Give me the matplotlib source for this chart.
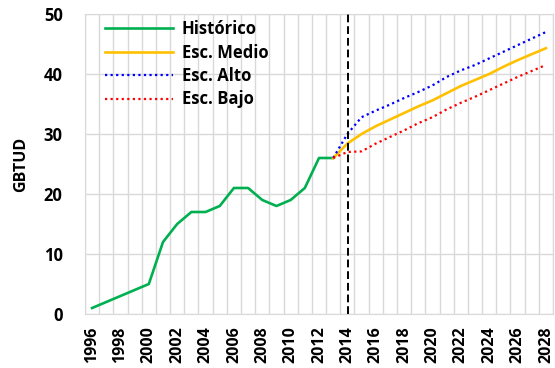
import matplotlib
matplotlib.use("Agg")
import matplotlib.pyplot as plt
import numpy as np

years = list(range(1996, 2029))
hist_years = list(range(1996, 2014))
historico = [1, 2, 3, 4, 5, 12, 15, 17, 17, 18, 21, 21, 19, 18, 19, 21, 26, 26]
proj_years = list(range(2013, 2029))
medio = [26, 28.4, 30.0, 31.3, 32.4, 33.5, 34.6, 35.6, 36.8, 38.0, 39.0, 40.0, 41.2, 42.3, 43.3, 44.3]
alto = [26, 30.0, 32.8, 33.9, 34.9, 36.0, 37.0, 38.1, 39.5, 40.6, 41.5, 42.6, 43.7, 44.8, 45.9, 47.0]
bajo = [26, 27.0, 27.1, 28.4, 29.5, 30.6, 31.8, 32.8, 34.1, 35.2, 36.2, 37.3, 38.4, 39.5, 40.5, 41.5]
cutoff_year = 2014
yticks = [0, 10, 20, 30, 40, 50]

plt.rcParams['font.family'] = ['Open Sans', 'DejaVu Sans']
plt.rcParams['font.weight'] = 'bold'

fig = plt.figure(figsize=(5.55, 3.68), dpi=100)
ax = fig.add_axes([85/555, 1-314/368, 468/555, 300/368])

idx = {y: i for i, y in enumerate(years)}
ax.plot([idx[y] for y in hist_years], historico, color='#00B050', lw=1.9, label='Histórico', zorder=3)
ax.plot([idx[y] for y in proj_years], medio, color='#FFC000', lw=1.9, label='Esc. Medio', zorder=3)
ax.plot([idx[y] for y in proj_years], alto, color='#0000FF', lw=1.6, ls=(0, (1, 1.5)), label='Esc. Alto', zorder=3)
ax.plot([idx[y] for y in proj_years], bajo, color='#FF0000', lw=1.6, ls=(0, (1, 1.5)), label='Esc. Bajo', zorder=3)
ax.axvline(idx[cutoff_year] + 0.05, color='black', lw=1.4, ls=(0, (4, 2)), zorder=4)

ax.set_xlim(-0.5, len(years) - 0.5)
ax.set_ylim(0, 50)
ax.set_yticks(yticks)
ax.set_yticklabels([str(v) for v in yticks], fontsize=12, fontweight='bold')
ax.set_xticks([idx[y] for y in years if y % 2 == 0])
ax.set_xticklabels([str(y) for y in years if y % 2 == 0], rotation=90, fontsize=11.5, fontweight='bold')
ax.set_xticks(np.arange(-0.5, len(years)), minor=True)
ax.tick_params(axis='x', which='both', length=0, pad=9)
ax.tick_params(axis='y', length=0, pad=16)
ax.grid(axis='x', which='minor', color='#D9D9D9', lw=1)
ax.grid(axis='y', which='major', color='#D9D9D9', lw=1)
for s in ax.spines.values():
    s.set_color('#D9D9D9')
ax.set_axisbelow(True)
ax.set_ylabel('GBTUD', fontsize=11.5, fontweight='bold')
ax.yaxis.set_label_coords(-56/468, 0.5)

leg = ax.legend(loc='upper left', bbox_to_anchor=(20/468, 1 - 6/300), frameon=False,
                handlelength=4.07, handletextpad=0.54, borderpad=0, borderaxespad=0,
                labelspacing=0.33, prop={'weight': 'bold', 'size': 12})

fig.savefig('out.png', dpi=100)
